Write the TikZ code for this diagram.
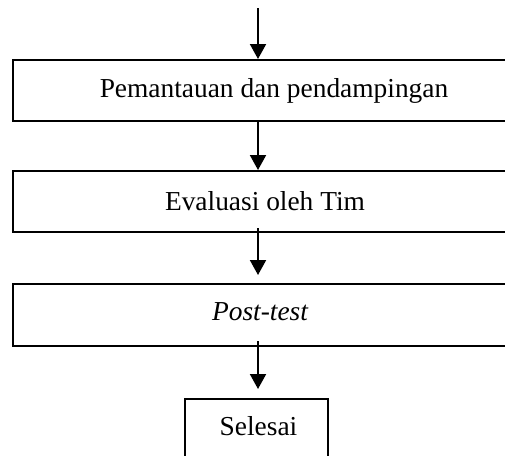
\documentclass[tikz,border=0pt]{standalone}
\usepackage{fontspec}
\setmainfont{Liberation Serif}
\usetikzlibrary{arrows.meta}
\begin{document}
\begin{tikzpicture}[x=1pt,y=-1pt,
  box/.style={draw=black,line width=2pt,rectangle,inner sep=0pt},
  lbl/.style={inner sep=0pt,anchor=base,font=\fontsize{27.4}{32}\selectfont},
  arr/.style={line width=2pt,-{Triangle[width=16pt,length=15pt]}}]
\useasboundingbox (0,0) rectangle (505,455);
\clip (0,0) rectangle (505,455);
\node[box,minimum width=508pt,minimum height=61pt] (b1) at (266.5,90.5) {};
\node[box,minimum width=508pt,minimum height=61pt] (b2) at (266.5,201.5) {};
\node[box,minimum width=508pt,minimum height=62pt] (b3) at (266.5,315) {};
\node[box,minimum width=143pt,minimum height=71pt] (b4) at (256.5,434.5) {};
\node[lbl] (t1) at (274,97) {Pemantauan dan pendampingan};
\node[lbl] (t2) at (265,210) {Evaluasi oleh Tim};
\node[lbl] (t3) at (260,320) {\itshape Post-test};
\node[lbl] (t4) at (258.5,435) {Selesai};
\coordinate (ax) at (258,0);
\coordinate (top) at (258,8);
\draw[arr] (top) -- (b1.north -| ax);
\draw[arr] (b1.south -| ax) -- (b2.north -| ax);
\draw[arr,shorten <=-5pt,shorten >=8pt] (b2.south -| ax) -- (b3.north -| ax);
\draw[arr,shorten <=-6pt,shorten >=9pt] (b3.south -| ax) -- (b4.north -| ax);
\end{tikzpicture}
\end{document}
